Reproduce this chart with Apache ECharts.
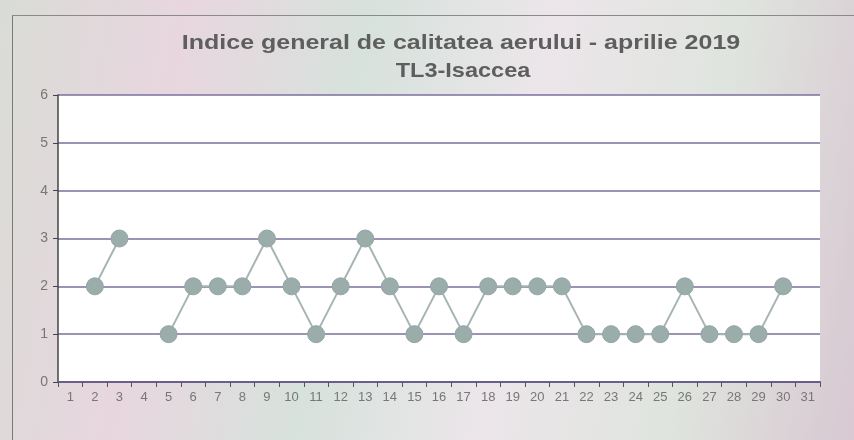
<!DOCTYPE html>
<html><head><meta charset="utf-8">
<script src="https://cdn.jsdelivr.net/npm/echarts@6/dist/echarts.min.js"></script>
<style>html,body{margin:0;padding:0;}#c{width:854px;height:440px;background:linear-gradient(100deg,#d9dcd6 0%,#e8d6df 20%,#d7e2dc 40%,#ece6ea 60%,#dfe4de 80%,#d8c8d2 100%);}</style>
</head><body><div id="c"></div>
<script>
const days = ['1','2','3','4','5','6','7','8','9','10','11','12','13','14','15','16','17','18','19','20','21','22','23','24','25','26','27','28','29','30','31'];
const indexValues = [null,2,3,null,1,2,2,2,3,2,1,2,3,2,1,2,1,2,2,2,2,1,1,1,1,2,1,1,1,2,null];
const yTicks = [0,1,2,3,4,5,6];
const titleText = 'Indice general de calitatea aerului - aprilie 2019';
const subtitleText = 'TL3-Isaccea';

const chart = echarts.init(document.getElementById('c'), null, {renderer:'canvas'});
chart.setOption({
  animation:false,
  backgroundColor:'transparent',
  graphic:[
    {type:'line',shape:{x1:12.5,y1:15,x2:12.5,y2:440},style:{stroke:'#7a7a7a',lineWidth:1}},
    {type:'line',shape:{x1:12,y1:15.5,x2:854,y2:15.5},style:{stroke:'#8a8a8a',lineWidth:1}},
    {type:'text',x:461,y:43,scaleX:1.19,style:{text:titleText,x:0,y:0,align:'center',verticalAlign:'middle',font:'bold 21px "Liberation Sans"',fill:'#5e5e5e'}},
    {type:'text',x:463,y:71,scaleX:1.12,style:{text:subtitleText,x:0,y:0,align:'center',verticalAlign:'middle',font:'bold 21px "Liberation Sans"',fill:'#5e5e5e'}}
  ],
  grid:{left:58,right:34,top:95,bottom:58,show:true,backgroundColor:'#ffffff',borderWidth:0},
  xAxis:{type:'category',data:days,boundaryGap:true,
    axisLine:{lineStyle:{color:'#6a5f8c',width:2}},
    axisTick:{show:true,alignWithLabel:false,length:5,lineStyle:{color:'#555'}},
    axisLabel:{color:'#777',fontFamily:'Liberation Sans',fontSize:13,margin:9,interval:0},
    splitLine:{show:false}},
  yAxis:{type:'value',min:yTicks[0],max:yTicks[yTicks.length-1],interval:1,
    axisLine:{show:true,lineStyle:{color:'#444',width:1.5}},
    axisTick:{show:true,length:5,lineStyle:{color:'#444'}},
    axisLabel:{color:'#777',fontFamily:'Liberation Sans',fontSize:14,margin:10},
    splitLine:{show:true,lineStyle:{color:'#7c6f9c',width:1.5}}},
  series:[{type:'line',data:indexValues,connectNulls:false,
    symbol:'circle',symbolSize:17,
    lineStyle:{color:'#a6b5b2',width:2},
    itemStyle:{color:'#9badaa',borderColor:'#93a7a3',borderWidth:1}}]
});
</script></body></html>
